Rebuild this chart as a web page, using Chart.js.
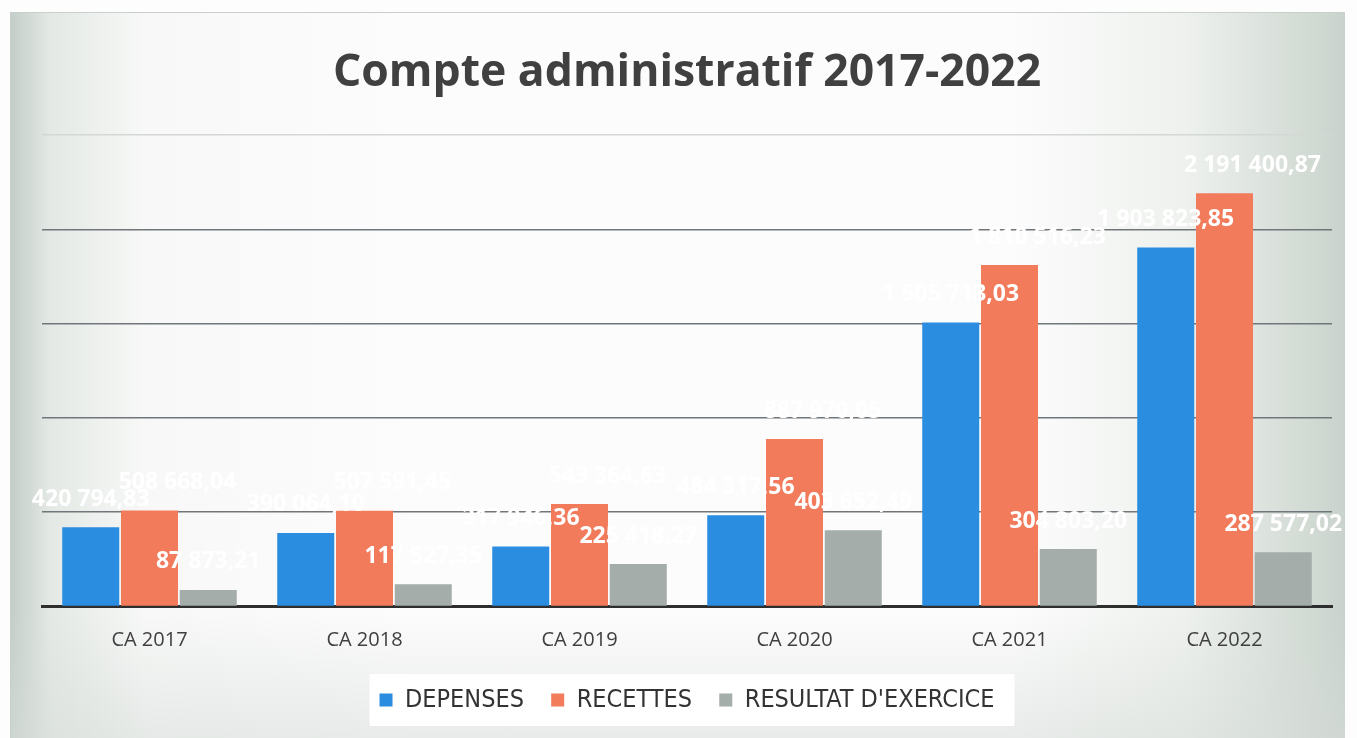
<!DOCTYPE html>
<html lang="fr">
<head>
<meta charset="utf-8">
<title>Compte administratif 2017-2022</title>
<script src="https://cdn.jsdelivr.net/npm/chart.js@4.4.1/dist/chart.umd.min.js"></script>
<style>
  html, body { margin:0; padding:0; width:1357px; height:738px; overflow:hidden; background:#fdfdfd; }
  #card {
    position:absolute; left:10px; top:12px; width:1334px; height:730px;
    border-top:1px solid #c9cfcb; border-left:1px solid #c9cfcb;
    background:
      linear-gradient(to bottom, rgba(255,255,255,0) 0%, rgba(255,255,255,0) 82%, rgba(214,220,216,0.55) 100%),
      linear-gradient(to right, #c4cec8 0%, #e4e9e5 3%, #f7f8f7 10%, #fcfcfc 30%, #fcfcfc 75%, #eef1ee 88%, #d3dbd5 97%, #c9d2cc 100%);
  }
  #chart { position:absolute; left:0; top:0; }
</style>
</head>
<body>
<div id="card"></div>
<canvas id="chart" width="1357" height="738"></canvas>
<script>
// Données du compte administratif
const annees = ['CA 2017', 'CA 2018', 'CA 2019', 'CA 2020', 'CA 2021', 'CA 2022'];
const depenses = [420794.83, 390064.10, 317946.36, 484317.56, 1505713.03, 1903823.85];
const recettes = [508668.04, 507591.45, 543364.63, 887970.05, 1810516.23, 2191400.87];
const resultat = [87873.21, 117527.35, 225418.27, 403652.49, 304803.20, 287577.02];
const yMax = 2500000, yPas = 500000;

// format français : 420 794,83
function formatMontant(v) {
    const [ent, dec] = v.toFixed(2).split('.');
    return ent.replace(/\B(?=(\d{3})+(?!\d))/g, ' ') + ',' + dec;
}

// décalage horizontal des étiquettes par série
const decalEtiq = [0, 28, 0];

const etiquettes = {
    id: 'etiquettes',
    afterDatasetsDraw(chart) {
        const ctx = chart.ctx;
        ctx.save();
        ctx.font = 'bold 23px "Open Sans"';
        ctx.fillStyle = '#ffffff';
        ctx.textAlign = 'center';
        ctx.textBaseline = 'middle';
        chart.data.datasets.forEach((ds, i) => {
            chart.getDatasetMeta(i).data.forEach((bar, j) => {
                ctx.fillText(formatMontant(ds.data[j]), bar.x + decalEtiq[i], bar.y - 28);
            });
        });
        ctx.restore();
    }
};

// cadre blanc derrière la légende
const fondLegende = {
    id: 'fondLegende',
    beforeDraw(chart) {
        const boxes = chart.legend && chart.legend.legendHitBoxes;
        if (!boxes || !boxes.length) return;
        const g = Math.min(...boxes.map(b => b.left));
        const d = Math.max(...boxes.map(b => b.left + b.width));
        const yc = boxes[0].top + boxes[0].height / 2;
        const ctx = chart.ctx;
        ctx.save();
        ctx.fillStyle = '#ffffff';
        ctx.fillRect(g - 10, yc - 26, d - g + 30, 52);
        ctx.restore();
    }
};

// espaces insécables pour écarter les entrées de la légende
const esp = '\u00a0\u00a0';

new Chart(document.getElementById('chart'), {
    type: 'bar',
    data: {
        labels: annees,
        datasets: [
            { label: 'DEPENSES' + esp, data: depenses, backgroundColor: '#2b8de0' },
            { label: 'RECETTES' + esp, data: recettes, backgroundColor: '#f27b5c' },
            { label: "RESULTAT D'EXERCICE", data: resultat, backgroundColor: '#a4ada9' }
        ]
    },
    options: {
        responsive: false,
        animation: false,
        layout: { padding: { left: 42, right: 25, top: 0, bottom: 15.5 } },
        datasets: { bar: { categoryPercentage: 0.82, barPercentage: 0.97 } },
        scales: {
            x: {
                grid: { display: false, drawTicks: false },
                border: { display: true, color: '#2e2e2e', width: 3 },
                ticks: { color: '#404040', padding: 22, font: { family: '"Open Sans"', size: 20, lineHeight: 1.2 } }
            },
            y: {
                min: 0, max: yMax,
                ticks: { display: false, stepSize: yPas },
                border: { display: false },
                grid: {
                    drawTicks: false,
                    lineWidth: 1.5,
                    color: c => c.tick && c.tick.value === yMax ? '#d3d8d5' : '#70767a'
                }
            }
        },
        plugins: {
            title: {
                display: true,
                text: 'Compte administratif 2017-2022',
                color: '#404040',
                font: { family: '"Open Sans"', size: 44.5, weight: 'bold', lineHeight: 1.2 },
                padding: { top: 47, bottom: 34.6 }
            },
            legend: {
                position: 'bottom',
                labels: {
                    boxWidth: 13, boxHeight: 13,
                    padding: 13,
                    color: '#333333',
                    font: { family: '"Liberation Sans Narrow", "DejaVu Sans Condensed", sans-serif', size: 25 }
                }
            },
            tooltip: { enabled: false }
        }
    },
    plugins: [fondLegende, etiquettes]
});
</script>
</body>
</html>
